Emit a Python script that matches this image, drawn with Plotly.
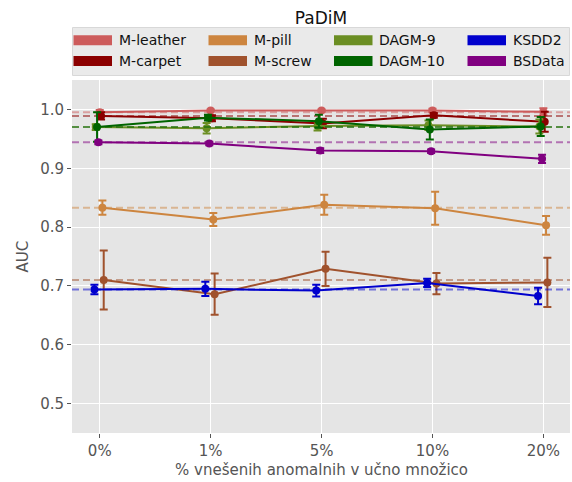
import plotly.graph_objects as go

# ---------------- data ----------------
x_labels = ["0%", "1%", "5%", "10%", "20%"]
series_names = ["M-leather", "M-carpet", "M-pill", "M-screw",
                "DAGM-9", "DAGM-10", "KSDD2", "BSData"]

m_leather = [0.995, 0.998, 0.998, 0.998, 0.996]
m_leather_err = [0.004, 0.002, 0.002, 0.003, 0.006]
m_carpet = [0.989, 0.985, 0.976, 0.990, 0.979]
m_carpet_err = [0.006, 0.005, 0.008, 0.004, 0.017]
m_pill = [0.833, 0.813, 0.838, 0.832, 0.803]
m_pill_err = [0.012, 0.011, 0.017, 0.028, 0.016]
m_screw = [0.710, 0.686, 0.729, 0.704, 0.706]
m_screw_err = [0.050, 0.035, 0.029, 0.018, 0.042]
dagm9 = [0.970, 0.968, 0.972, 0.973, 0.971]
dagm9_err = [0.005, 0.009, 0.008, 0.008, 0.012]
dagm10 = [0.970, 0.986, 0.980, 0.966, 0.971]
dagm10_err = [0.025, 0.005, 0.011, 0.017, 0.016]
ksdd2 = [0.694, 0.695, 0.692, 0.705, 0.683]
ksdd2_err = [0.008, 0.012, 0.010, 0.007, 0.014]
bsdata = [0.944, 0.942, 0.930, 0.929, 0.916]
bsdata_err = [0.003, 0.003, 0.004, 0.003, 0.007]

values = {
    "M-leather": (m_leather, m_leather_err),
    "M-carpet": (m_carpet, m_carpet_err),
    "M-pill": (m_pill, m_pill_err),
    "M-screw": (m_screw, m_screw_err),
    "DAGM-9": (dagm9, dagm9_err),
    "DAGM-10": (dagm10, dagm10_err),
    "KSDD2": (ksdd2, ksdd2_err),
    "BSData": (bsdata, bsdata_err),
}

# ---------------- style ----------------
colors = {
    "M-leather": "#CD5C5C", "M-carpet": "#8B0000",
    "M-pill": "#CD853F", "M-screw": "#A0522D",
    "DAGM-9": "#6B8E23", "DAGM-10": "#006400",
    "KSDD2": "#0000CD", "BSData": "#800080",
}
dodge = {
    "KSDD2": -4, "DAGM-9": -3, "DAGM-10": -2, "BSData": -1,
    "M-leather": 0, "M-carpet": 1, "M-pill": 2, "M-screw": 3,
}
step = 0.012
x_range = [-0.25, 4.24]

W, H = 572, 482
ML, MR, MT, MB = 72, 2, 80, 49
PW = W - ML - MR
PH = H - MT - MB


def px(x, y):
    return (x - ML) / PW, (H - MB - y) / PH


def rgba(hexc, a):
    h = hexc.lstrip("#")
    r, g, b = int(h[0:2], 16), int(h[2:4], 16), int(h[4:6], 16)
    return f"rgba({r},{g},{b},{a})"


fig = go.Figure()
xs = list(range(len(x_labels)))

for name in series_names:
    ys, es = values[name]
    c = colors[name]
    fig.add_trace(go.Scatter(
        x=[xi + dodge[name] * step for xi in xs], y=ys,
        mode="lines+markers", name=name, showlegend=False,
        line=dict(color=c, width=2),
        marker=dict(color=c, size=8),
        error_y=dict(type="data", array=es, visible=True,
                     color=c, thickness=2, width=4),
    ))
    # baseline (0 %) reference line across the whole axis
    fig.add_trace(go.Scatter(
        x=x_range, y=[ys[0], ys[0]], mode="lines", showlegend=False,
        hoverinfo="skip", line=dict(color=rgba(c, 0.5), width=2, dash="7px,4px"),
    ))

# ---------------- manual legend (patches) ----------------
shapes = []
annots = []
bx0, by0 = px(72.5, 27.5)
bx1, by1 = px(569.5, 75.5)
shapes.append(dict(type="rect", xref="paper", yref="paper",
                   x0=bx0, x1=bx1, y0=by1, y1=by0,
                   fillcolor="#EAEAEA", line=dict(color="#D8D8D8", width=1), layer="above"))

legend_layout = [
    ("M-leather", 0, 0), ("M-carpet", 0, 1),
    ("M-pill", 1, 0), ("M-screw", 1, 1),
    ("DAGM-9", 2, 0), ("DAGM-10", 2, 1),
    ("KSDD2", 3, 0), ("BSData", 3, 1),
]
col_patch_x = [73.5, 208.5, 334, 467.5]
col_text_x = [116.5, 251.5, 376.5, 510.5]
row_y = [40.2, 61]
for name, ci, ri in legend_layout:
    x0, y0 = px(col_patch_x[ci], row_y[ri] - 5)
    x1, y1 = px(col_patch_x[ci] + 38.5, row_y[ri] + 5)
    shapes.append(dict(type="rect", xref="paper", yref="paper",
                       x0=x0, x1=x1, y0=y1, y1=y0, fillcolor=colors[name],
                       line=dict(width=0), layer="above"))
    tx, ty = px(col_text_x[ci], row_y[ri])
    annots.append(dict(text=name, xref="paper", yref="paper", x=tx, y=ty,
                       xanchor="left", yanchor="middle", showarrow=False,
                       font=dict(size=14, color="#111111")))

# axis titles
ax_x, ax_y = px(321, 470)
annots.append(dict(text="% vnešenih anomalnih v učno množico", xref="paper", yref="paper",
                   x=ax_x, y=ax_y, xanchor="center", yanchor="middle", showarrow=False,
                   font=dict(size=15, color="#555555")))
ay_x, ay_y = px(22, 256.5)
annots.append(dict(text="AUC", xref="paper", yref="paper", x=ay_x, y=ay_y,
                   xanchor="center", yanchor="middle", showarrow=False, textangle=-90,
                   font=dict(size=15, color="#555555")))

fig.update_layout(
    width=W, height=H,
    margin=dict(l=ML, r=MR, t=MT, b=MB, pad=0),
    paper_bgcolor="white", plot_bgcolor="#E5E5E5",
    font=dict(family="DejaVu Sans", size=15, color="#555555"),
    title=dict(text="PaDiM", x=321 / W, xanchor="center", y=1 - 18 / H, yanchor="middle",
               font=dict(size=17, color="#111111")),
    shapes=shapes, annotations=annots,
    showlegend=False,
)
fig.update_xaxes(
    range=x_range, tickmode="array", tickvals=xs, ticktext=x_labels,
    showgrid=True, gridcolor="white", gridwidth=1.3, zeroline=False,
    ticks="outside", ticklen=4, tickcolor="#555555", tickwidth=1,
    tickfont=dict(size=15, color="#555555"), showline=False, automargin=False,
)
fig.update_yaxes(
    range=[0.45, 1.05], tickmode="array", tickvals=[0.5, 0.6, 0.7, 0.8, 0.9, 1.0],
    ticktext=["0.5", "0.6", "0.7", "0.8", "0.9", "1.0"],
    showgrid=True, gridcolor="white", gridwidth=1.3, zeroline=False,
    ticks="outside", ticklen=4, tickcolor="#555555", tickwidth=1,
    tickfont=dict(size=15, color="#555555"), showline=False, automargin=False,
)

fig.write_html("out.html", config={"displayModeBar": False},
               post_script="document.body.style.margin='0px';document.body.style.padding='0px';")
